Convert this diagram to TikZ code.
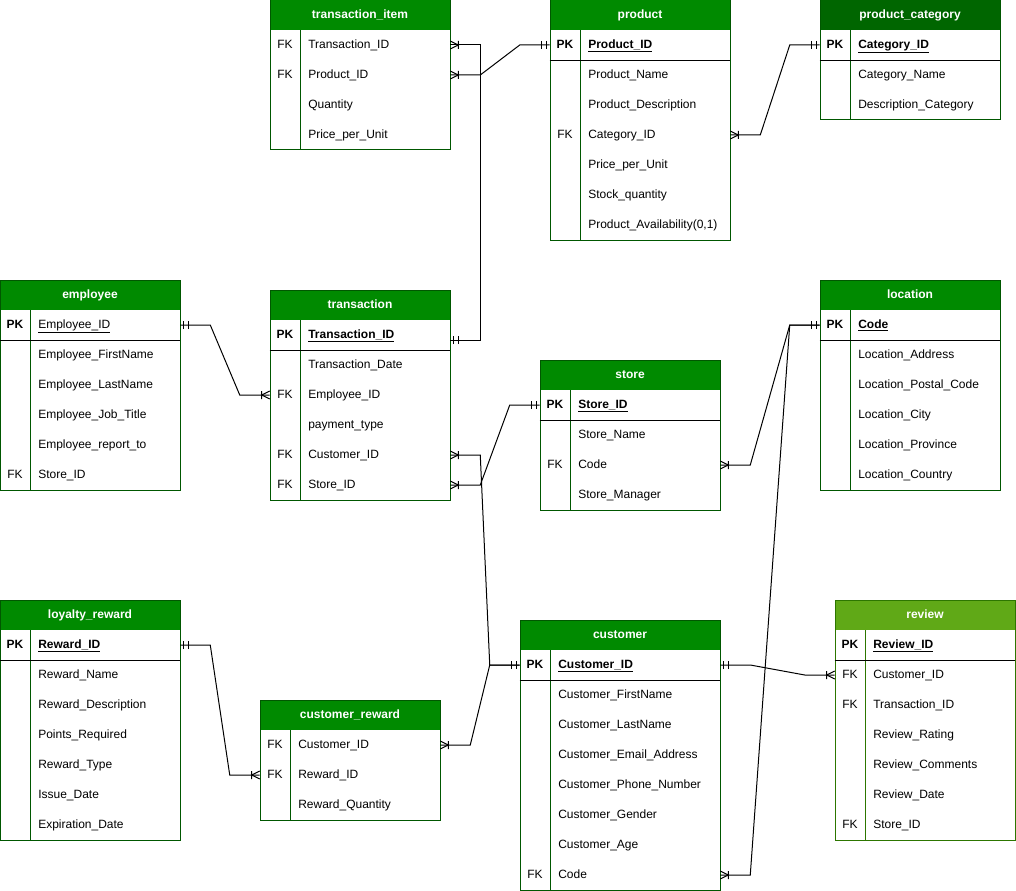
\documentclass[tikz,border=0pt]{standalone}
\usepackage{fontspec}
\setmainfont{Liberation Sans}
\usetikzlibrary{calc}

\definecolor{hdgreen}{HTML}{008A00}
\definecolor{hddark}{HTML}{006600}
\definecolor{hdlime}{HTML}{60A917}
\definecolor{bdgreen}{HTML}{005700}
\definecolor{bdlime}{HTML}{2D7600}

\newcommand{\pxu}{0.75pt}
\newcommand{\nokey}{}

% crow's foot (one or many)
\pgfdeclarearrow{
  name = ermany,
  setup code = {
    \pgfarrowssettipend{0pt}
    \pgfarrowssetlineend{0pt}
    \pgfarrowssetbackend{-6pt}
    \pgfarrowsupperhullpoint{0pt}{3pt}
    \pgfarrowsupperhullpoint{-6pt}{3pt}
  },
  drawing code = {
    \pgfpathmoveto{\pgfpoint{0pt}{3pt}}
    \pgfpathlineto{\pgfpoint{-6pt}{0pt}}
    \pgfpathlineto{\pgfpoint{0pt}{-3pt}}
    \pgfpathmoveto{\pgfpoint{-6pt}{3pt}}
    \pgfpathlineto{\pgfpoint{-6pt}{-3pt}}
    \pgfusepathqstroke
  }
}
% two bars (one and only one)
\pgfdeclarearrow{
  name = erone,
  setup code = {
    \pgfarrowssettipend{0pt}
    \pgfarrowssetlineend{0pt}
    \pgfarrowssetbackend{-6pt}
    \pgfarrowsupperhullpoint{0pt}{3pt}
    \pgfarrowsupperhullpoint{-6pt}{3pt}
  },
  drawing code = {
    \pgfpathmoveto{\pgfpoint{-2.25pt}{3pt}}
    \pgfpathlineto{\pgfpoint{-2.25pt}{-3pt}}
    \pgfpathmoveto{\pgfpoint{-6pt}{3pt}}
    \pgfpathlineto{\pgfpoint{-6pt}{-3pt}}
    \pgfusepathqstroke
  }
}

% #1 name, #2 fill, #3 border, #4 x, #5 y, #6 width, #7 title, #8 rows, #9 key/field list
\newcommand{\ertable}[9]{%
  \node[erhead, fill=#2, minimum width=#6*\pxu] (#1) at (#4+#6/2, #5+15) {#7};
  \foreach \ky/\fld [count=\i] in {#9} {
    \node[errow, minimum width=#6*\pxu] (#1-\i) at (#4+#6/2, #5+15+30*\i) {};
    \node[erkey] (#1-\i-k) at (#4+15, #5+15+30*\i) {\ky};
    \node[erfield] (#1-\i-t) at (#4+38, #5+15+30*\i) {\fld};
  }
  \draw[erline, draw=#3] (#4+30, #5+30) -- (#4+30, #5+30+30*#8);
  \draw[erline, draw=#3] (#4, #5) rectangle (#4+#6, #5+30+30*#8);
}

\begin{document}
\begin{tikzpicture}[x=0.75pt, y=-0.75pt]
\tikzstyle{ertext}=[inner sep=0pt, text height=6.6pt, text depth=2pt, font=\fontsize{9}{11}\selectfont]
\tikzstyle{erhead}=[ertext, rectangle, minimum height=30*\pxu, text=white, font=\fontsize{9}{11}\selectfont\bfseries]
\tikzstyle{errow}=[rectangle, minimum height=30*\pxu, inner sep=0pt]
\tikzstyle{erkey}=[ertext]
\tikzstyle{erfield}=[ertext, anchor=west]
\tikzstyle{erline}=[line width=0.75pt]
\tikzstyle{pkline}=[line width=0.75pt, black]
\tikzstyle{rel}=[line width=0.75pt, black]
\useasboundingbox (0,0) rectangle (1016,891);

\ertable{ti}{hdgreen}{bdgreen}{270}{0}{180}{transaction\_item}{4}{FK/Transaction\_ID, FK/Product\_ID, \nokey/Quantity, \nokey/Price\_per\_Unit}
\ertable{product}{hdgreen}{bdgreen}{550}{0}{180}{product}{7}{\textbf{PK}/\textbf{\underline{Product\_ID}}, \nokey/Product\_Name, \nokey/Product\_Description, FK/Category\_ID, \nokey/Price\_per\_Unit, \nokey/Stock\_quantity, \nokey/{Product\_Availability(0,1)}}
\ertable{prodcat}{hddark}{bdgreen}{820}{0}{180}{product\_category}{3}{\textbf{PK}/\textbf{\underline{Category\_ID}}, \nokey/Category\_Name, \nokey/Description\_Category}
\ertable{employee}{hdgreen}{bdgreen}{0}{280}{180}{employee}{6}{\textbf{PK}/\underline{Employee\_ID}, \nokey/Employee\_FirstName, \nokey/Employee\_LastName, \nokey/Employee\_Job\_Title, \nokey/Employee\_report\_to, FK/Store\_ID}
\ertable{tr}{hdgreen}{bdgreen}{270}{290}{180}{transaction}{6}{\textbf{PK}/\textbf{\underline{Transaction\_ID}}, \nokey/Transaction\_Date, FK/Employee\_ID, \nokey/payment\_type, FK/Customer\_ID, FK/Store\_ID}
\ertable{location}{hdgreen}{bdgreen}{820}{280}{180}{location}{6}{\textbf{PK}/\textbf{\underline{Code}}, \nokey/Location\_Address, \nokey/Location\_Postal\_Code, \nokey/Location\_City, \nokey/Location\_Province, \nokey/Location\_Country}
\ertable{store}{hdgreen}{bdgreen}{540}{360}{180}{store}{4}{\textbf{PK}/\textbf{\underline{Store\_ID}}, \nokey/Store\_Name, FK/Code, \nokey/Store\_Manager}
\ertable{loyalty}{hdgreen}{bdgreen}{0}{600}{180}{loyalty\_reward}{7}{\textbf{PK}/\textbf{\underline{Reward\_ID}}, \nokey/Reward\_Name, \nokey/Reward\_Description, \nokey/Points\_Required, \nokey/Reward\_Type, \nokey/Issue\_Date, \nokey/Expiration\_Date}
\ertable{creward}{hdgreen}{bdgreen}{260}{700}{180}{customer\_reward}{3}{FK/Customer\_ID, FK/Reward\_ID, \nokey/Reward\_Quantity}
\ertable{customer}{hdgreen}{bdgreen}{520}{620}{200}{customer}{8}{\textbf{PK}/\textbf{\underline{Customer\_ID}}, \nokey/Customer\_FirstName, \nokey/Customer\_LastName, \nokey/Customer\_Email\_Address, \nokey/Customer\_Phone\_Number, \nokey/Customer\_Gender, \nokey/Customer\_Age, FK/Code}
\ertable{review}{hdlime}{bdlime}{835}{600}{180}{review}{7}{\textbf{PK}/\textbf{\underline{Review\_ID}}, FK/Customer\_ID, FK/Transaction\_ID, \nokey/Review\_Rating, \nokey/Review\_Comments, \nokey/Review\_Date, FK/Store\_ID}

% primary key separators
\foreach \t in {product, prodcat, employee, tr, location, store, loyalty, customer, review}
  \draw[pkline] (\t-1.south west) -- (\t-1.south east);

% relationships
\draw[rel, ermany-erone] (ti-1.east) -- ++(30,0) |- ($(tr-1.east)+(0,5)$);
\draw[rel, ermany-erone] (ti-2.east) -- ++(30,0) -- ($(product-1.west)+(-30,0)$) -- (product-1.west);
\draw[rel, ermany-erone] (product-4.east) -- ++(30,0) -- ($(prodcat-1.west)+(-30,0)$) -- (prodcat-1.west);
\draw[rel, erone-ermany] (employee-1.east) -- ++(30,0) -- ($(tr-3.west)+(-30,0)$) -- (tr-3.west);
\draw[rel, ermany-erone] (tr-5.east) -- ++(30,0) -- ($(customer-1.west)+(-30,0)$) -- (customer-1.west);
\draw[rel, ermany-erone] (tr-6.east) -- ++(30,0) -- ($(store-1.west)+(-30,0)$) -- (store-1.west);
\draw[rel, ermany-erone] (creward-1.east) -- ++(30,0) -- ($(customer-1.west)+(-30,0)$) -- (customer-1.west);
\draw[rel, erone-ermany] (loyalty-1.east) -- ++(30,0) -- ($(creward-2.west)+(-30,0)$) -- (creward-2.west);
\draw[rel, ermany-erone] (store-3.east) -- ++(30,0) -- ($(location-1.west)+(-30,0)$) -- (location-1.west);
\draw[rel, ermany-erone] (customer-8.east) -- ++(30,0) -- ($(location-1.west)+(-30,0)$) -- (location-1.west);
\draw[rel, erone-ermany] (customer-1.east) -- ++(30,0) -- ($(review-2.west)+(-30,0)$) -- (review-2.west);
\end{tikzpicture}
\end{document}
